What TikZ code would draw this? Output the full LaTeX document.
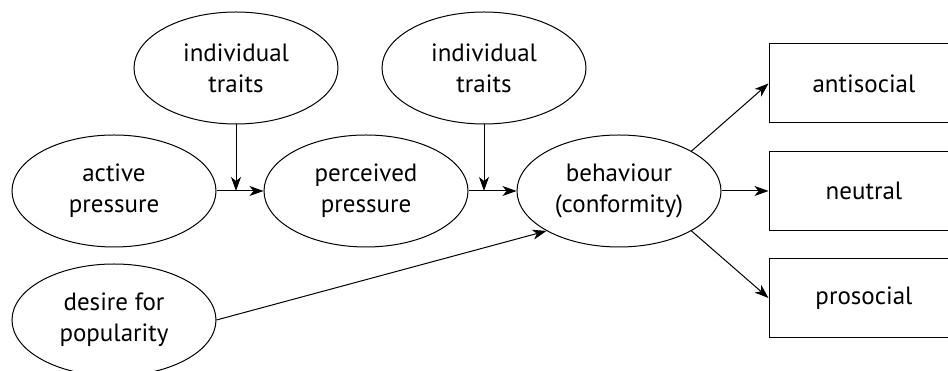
\documentclass[tikz,border=0pt]{standalone}
\usepackage{fontspec}
\setmainfont{PT Sans}
\usetikzlibrary{arrows.meta,shapes.geometric}

\begin{document}
\begin{tikzpicture}[x=0.4pt,y=-0.4pt,
  oval/.style={ellipse,draw,minimum width=81.6pt,minimum height=44.8pt,inner sep=0pt,align=center,font=\fontsize{10}{12.4}\selectfont},
  outbox/.style={rectangle,draw,minimum width=76pt,minimum height=31.6pt,inner sep=0pt,font=\fontsize{10}{12.4}\selectfont},
  >={Stealth[length=5.6pt,width=4pt,inset=1.6pt]}]
  \useasboundingbox (0,0) rectangle (948,371);
  \clip (0,0) rectangle (948,371);
  % ovals
  \node[oval] (ind1) at (236,68) {individual\\traits};
  \node[oval] (ind2) at (484,68) {individual\\traits};
  \node[oval] (act) at (114,191) {active\\pressure};
  \node[oval] (perc) at (366,191) {perceived\\pressure};
  \node[oval] (beh) at (619,191) {behaviour\\(conformity)};
  \node[oval] (pop) at (114,320) {desire for\\popularity};
  % outcomes
  \node[outbox] (anti) at (864,83.5) {antisocial};
  \node[outbox] (neut) at (864,191) {neutral};
  \node[outbox] (pro) at (864,298) {prosocial};
  % moderators meet the links
  \coordinate (j1) at (ind1.south |- act.east);
  \coordinate (j2) at (ind2.south |- perc.east);
  \draw[->] (act.east) -- (perc.west);
  \draw[->] (perc.east) -- (beh.west);
  \draw[->] (ind1.south) -- (j1);
  \draw[->] (ind2.south) -- (j2);
  \draw[->] (pop.east) -- (beh.south west);
  \draw[->] (beh.north east) -- (anti.west);
  \draw[->] (beh.east) -- (neut.west);
  \draw[->] (beh.south east) -- (pro.west);
\end{tikzpicture}
\end{document}
